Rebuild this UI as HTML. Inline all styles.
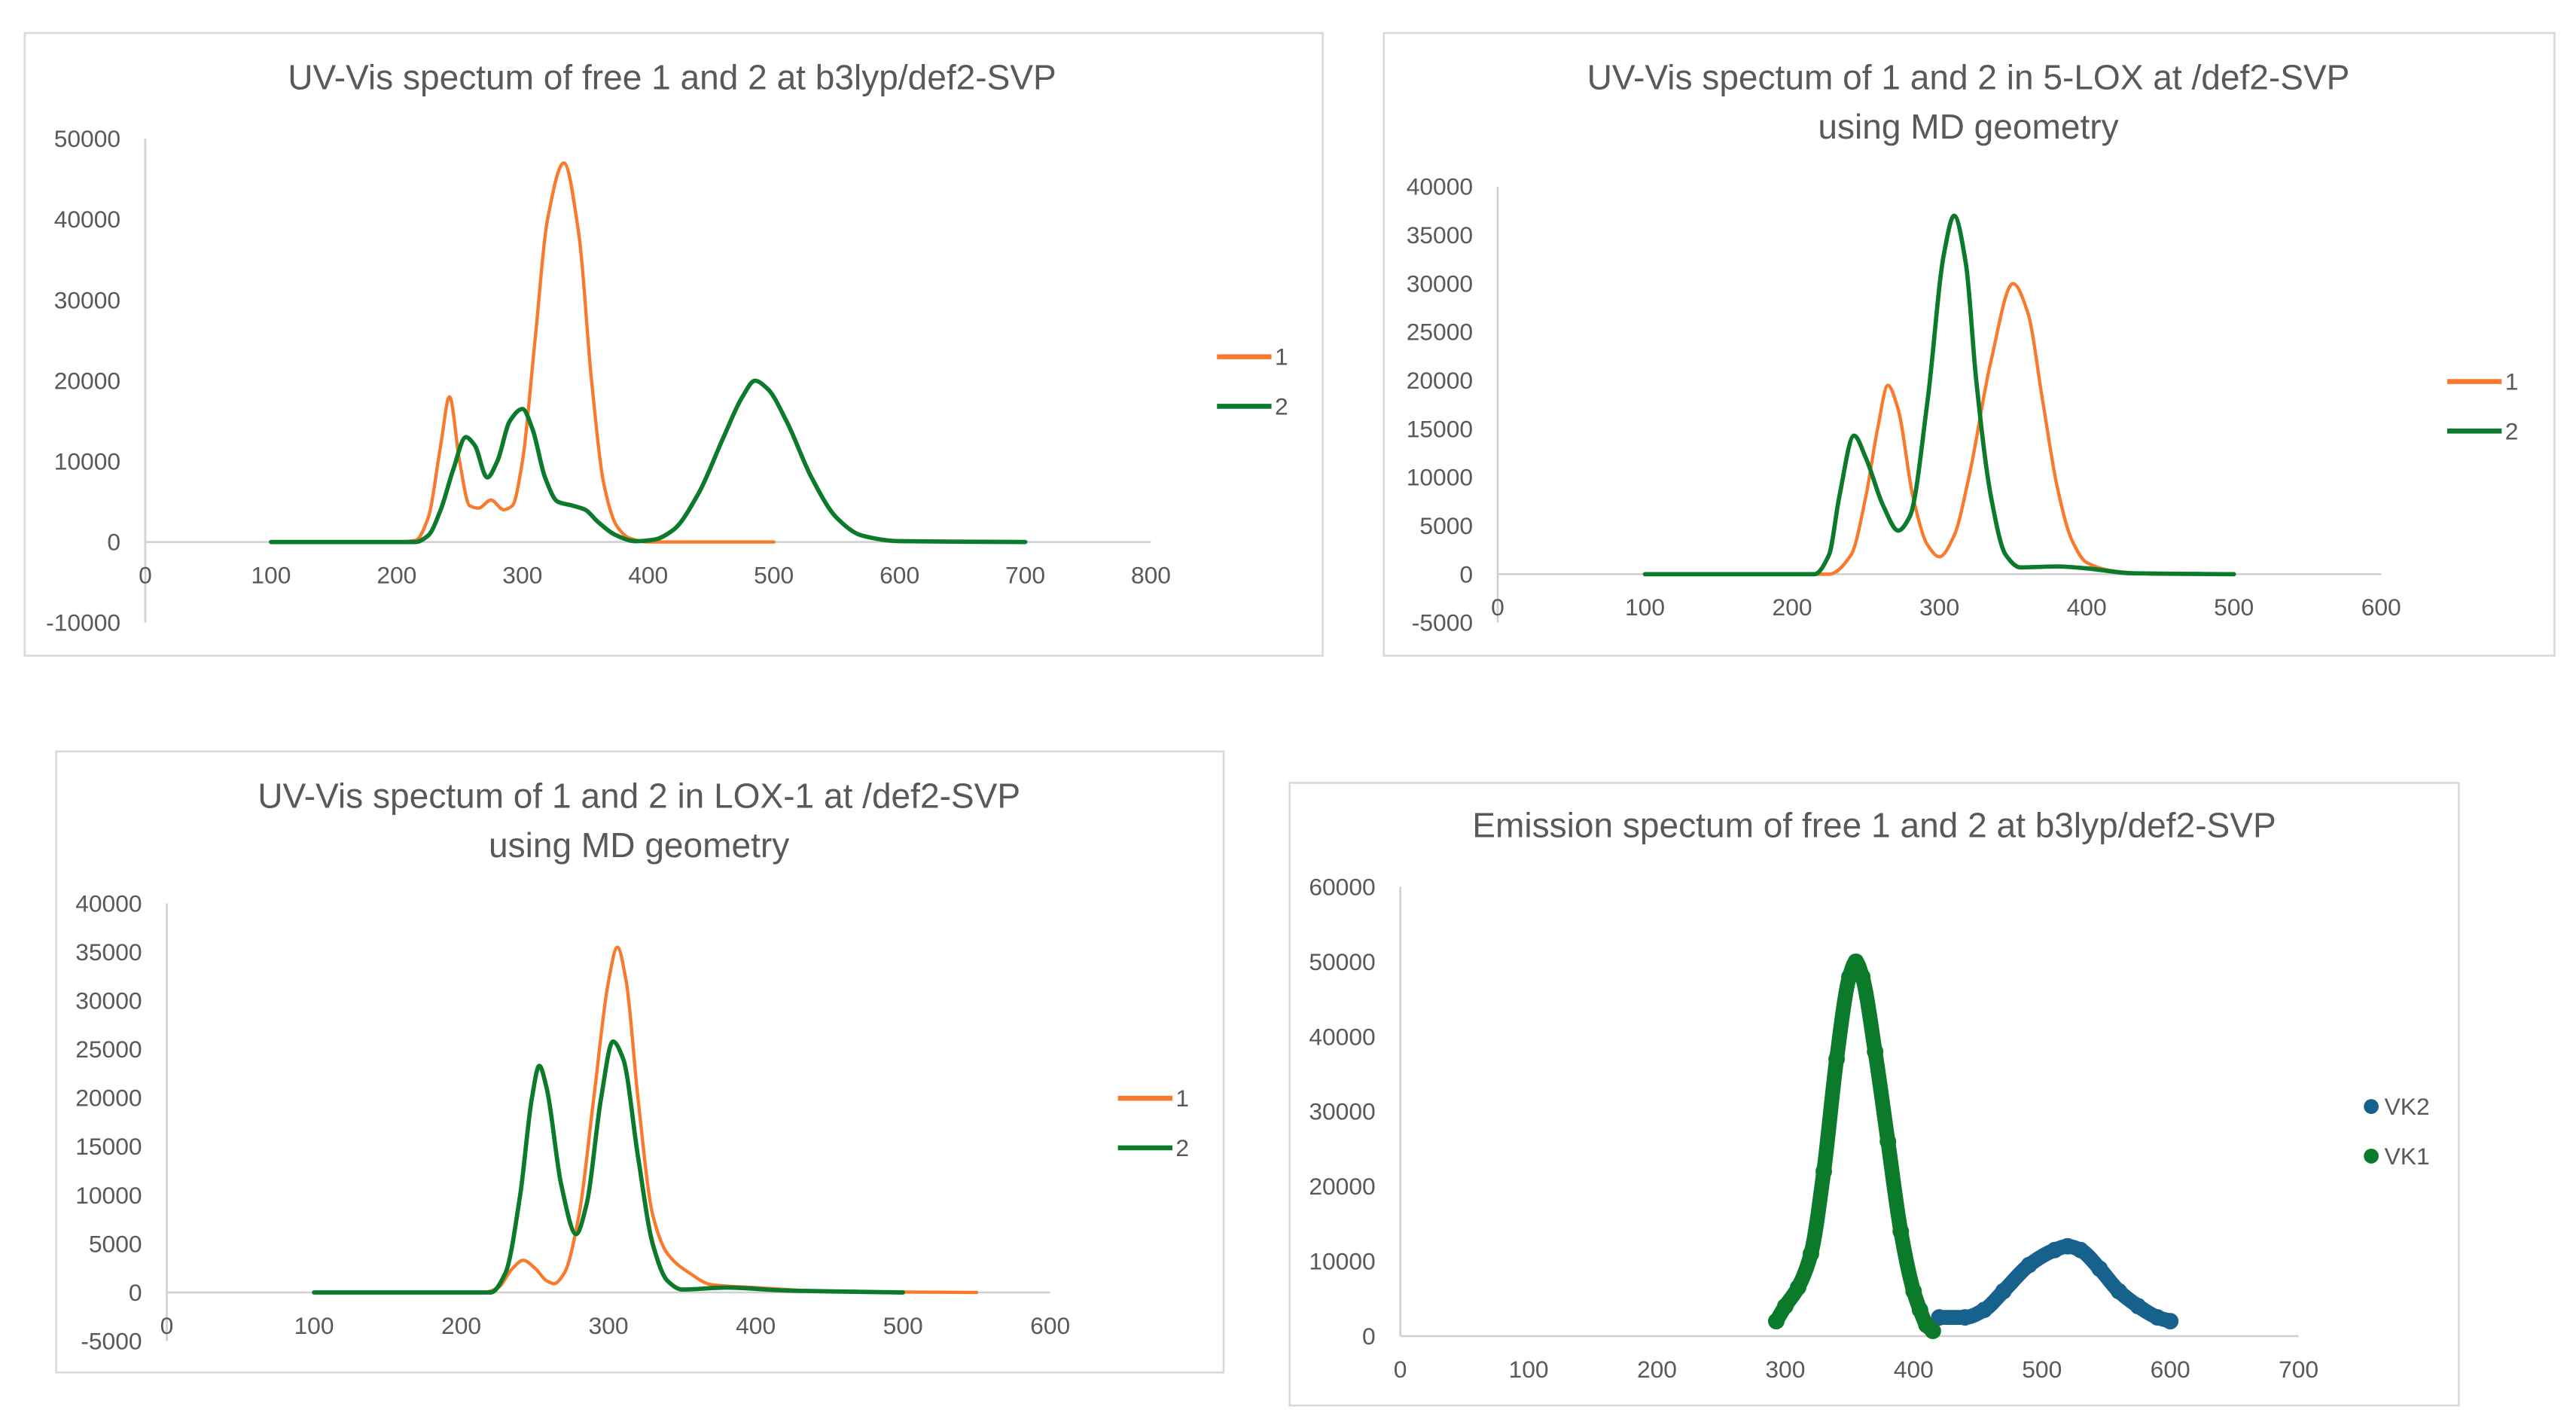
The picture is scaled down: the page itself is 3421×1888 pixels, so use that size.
<!DOCTYPE html>
<html><head><meta charset="utf-8"><style>
html,body{margin:0;padding:0;background:#fff;}
svg{display:block;}
text{font-family:"Liberation Sans Narrow","Liberation Sans",sans-serif;fill:#595959;}
</style></head><body>
<svg id="root" width="3421" height="1888" viewBox="0 0 1560 861" preserveAspectRatio="none" xmlns="http://www.w3.org/2000/svg"></svg>
<script>
// ---- Chart 1 data: free 1 and 2 ----
const c1_s1_x=[100,200,215,225,235,242,250,258,265,275,285,292,300,310,320,333,345,355,365,375,385,400,500];
const c1_s1_y=[0,0,200,3000,12000,18000,10000,4500,4200,5200,4000,4500,10000,25000,40000,47000,38000,20000,7000,2000,500,0,0];
const c1_s2_x=[100,215,225,235,245,255,262,272,280,290,300,308,318,328,340,350,360,375,390,405,420,440,460,475,485,495,510,530,550,570,600,700];
const c1_s2_y=[0,0,800,4000,9000,13000,12000,8000,10000,15000,16500,14000,8000,5000,4500,4000,2500,800,100,300,1500,6000,13000,18000,20000,19000,15000,8000,3000,800,100,0];
const c1_yticks=[-10000,0,10000,20000,30000,40000,50000];
const c1_xticks=[0,100,200,300,400,500,600,700,800];
// ---- Chart 2 data: 5-LOX ----
const c2_s1_x=[100,225,240,250,258,265,272,282,292,300,310,320,335,350,360,370,380,390,400,420,450,500];
const c2_s1_y=[0,0,2000,8000,15000,19500,17000,8000,3000,1800,4000,10000,22000,30000,27000,18000,9000,3500,1200,300,0,0];
const c2_s2_x=[100,215,225,232,242,250,262,272,280,292,303,310,318,325,335,345,355,380,400,430,500];
const c2_s2_y=[0,0,2000,8000,14300,12000,7000,4500,6000,18000,33000,37000,32000,20000,8000,2000,700,800,600,100,0];
const c2_yticks=[-5000,0,5000,10000,15000,20000,25000,30000,35000,40000];
const c2_xticks=[0,100,200,300,400,500,600];
// ---- Chart 3 data: LOX-1 ----
const c3_s1_x=[100,215,225,235,242,250,258,263,270,280,290,300,306,312,320,330,340,355,370,400,450,550];
const c3_s1_y=[0,0,500,2500,3300,2500,1200,900,2000,8000,20000,32000,35500,32000,20000,8000,4000,2000,800,500,100,0];
const c3_s2_x=[100,220,230,240,248,253,258,268,278,285,295,303,310,320,330,340,350,380,420,500];
const c3_s2_y=[0,0,2000,10000,20000,23300,21000,11000,6000,9000,20000,25800,24000,14000,5000,1200,300,500,200,0];
const c3_yticks=c2_yticks;
const c3_xticks=[0,100,200,300,400,500,600];
// ---- Chart 4 data: emission ----
const c4_vk1_x=[293,300,310,320,330,340,350,355,360,370,380,390,400,405,410,415];
const c4_vk1_y=[2000,4000,6500,11000,22000,37000,48000,50000,48000,38000,26000,14000,6000,3500,1500,700];
const c4_vk2_x=[420,440,455,470,490,510,520,530,545,560,575,590,600];
const c4_vk2_y=[2500,2500,3500,6000,9500,11500,12000,11500,9000,6000,4000,2500,2000];
const c4_yticks=[0,10000,20000,30000,40000,50000,60000];
const c4_xticks=[0,100,200,300,400,500,600,700];

const NS="http://www.w3.org/2000/svg";
const root=document.getElementById('root');
function mk(tag,attrs,parent){const e=document.createElementNS(NS,tag);for(const k in attrs)e.setAttribute(k,attrs[k]);(parent||root).appendChild(e);return e;}
// monotone cubic (Fritsch-Carlson) to avoid overshoot
function smooth(pts){
 const n=pts.length,dx=[],m=[],t=[];
 for(let i=0;i<n-1;i++){dx[i]=pts[i+1][0]-pts[i][0];m[i]=(pts[i+1][1]-pts[i][1])/dx[i];}
 t[0]=m[0];t[n-1]=m[n-2];
 for(let i=1;i<n-1;i++){if(m[i-1]*m[i]<=0)t[i]=0;else{const w1=2*dx[i]+dx[i-1],w2=dx[i]+2*dx[i-1];t[i]=(w1+w2)/(w1/m[i-1]+w2/m[i]);}}
 let d="M"+pts[0][0].toFixed(2)+","+pts[0][1].toFixed(2);
 for(let i=0;i<n-1;i++){const h=dx[i]/3;
  d+=" C"+(pts[i][0]+h).toFixed(2)+","+(pts[i][1]+t[i]*h).toFixed(2)+" "+(pts[i+1][0]-h).toFixed(2)+","+(pts[i+1][1]-t[i+1]*h).toFixed(2)+" "+pts[i+1][0].toFixed(2)+","+pts[i+1][1].toFixed(2);}
 return d;}

function chart(cfg){
 const g=mk('g',{});
 
 
 const box=mk('rect',{x:cfg.box[0],y:cfg.box[1],width:cfg.box[2],height:cfg.box[3],fill:'#fff',stroke:'#d9d9d9','stroke-width':1.2},g);
 
 
 cfg.title.forEach((t,i)=>{const te=mk('text',{x:cfg.tx,y:cfg.ty+i*30,'text-anchor':'middle','font-size':21},g);te.textContent=t;
  
  });
 const xs=v=>cfg.ax+(v-cfg.xmin)/(cfg.xmax-cfg.xmin)*(cfg.axEnd-cfg.ax);
 const ys=v=>cfg.y0+(v-cfg.ymin)/(cfg.ymax-cfg.ymin)*(cfg.y1-cfg.y0);
 const ya=mk('line',{x1:cfg.ax,x2:cfg.ax,y1:ys(cfg.ymax),y2:ys(cfg.ymin),stroke:'#d0d0d0','stroke-width':1.2},g);
 
 
 const xa=mk('line',{x1:cfg.ax,x2:cfg.axEnd,y1:ys(0),y2:ys(0),stroke:'#d0d0d0','stroke-width':1.2},g);
 
 
 cfg.yt.forEach(v=>{const t=mk('text',{x:cfg.ax-15,y:ys(v)+5,'text-anchor':'end','font-size':14.5},g);t.textContent=v;
  
  });
 cfg.xt.forEach(v=>{const t=mk('text',{x:xs(v),y:ys(0)+25,'text-anchor':'middle','font-size':14.5},g);t.textContent=v;
  
  });
 cfg.series.forEach((s,i)=>{
  const pts=s.x.map((xv,j)=>[xs(xv),ys(s.y[j])]);
  const p=mk('path',{d:smooth(pts),fill:'none',stroke:s.color,'stroke-width':s.w,'stroke-linecap':'round','stroke-linejoin':'round'},g);
  
  
  if(s.dots){pts.forEach(q=>{const c=mk('circle',{cx:q[0],cy:q[1],r:5,fill:s.color},g);
   
   });}
  const ly=cfg.legY+i*30;
  if(s.dots){const c=mk('circle',{cx:cfg.legX+4,cy:ly,r:4.5,fill:s.color},g);
   
   
   const t=mk('text',{x:cfg.legX+12,y:ly+5,'font-size':14.5},g);t.textContent=s.label;
   
   }
  else{const l=mk('line',{x1:cfg.legX,x2:cfg.legX+33,y1:ly,y2:ly,stroke:s.color,'stroke-width':3},g);
   
   
   const t=mk('text',{x:cfg.legX+35,y:ly+5,'font-size':14.5},g);t.textContent=s.label;
   
   }
 });
}
const OR='#f97a2c',GR='#0b7a2b',BL='#16628c';
chart({name:'chart-free-uvvis',box:[15,20,786,377],title:['UV-Vis spectum of free 1 and 2 at b3lyp/def2-SVP'],tx:407,ty:54,
 ax:88,axEnd:697,xmin:0,xmax:800,y0:377,y1:84,ymin:-10000,ymax:50000,yt:c1_yticks,xt:c1_xticks,legX:737,legY:216,
 series:[{x:c1_s1_x,y:c1_s1_y,color:OR,w:2,label:'1'},{x:c1_s2_x,y:c1_s2_y,color:GR,w:2.6,label:'2'}]});
chart({name:'chart-5lox-uvvis',box:[838,20,709,377],title:['UV-Vis spectum of 1 and 2 in 5-LOX at /def2-SVP','using MD geometry'],tx:1192,ty:54,
 ax:907,axEnd:1442,xmin:0,xmax:600,y0:377,y1:113,ymin:-5000,ymax:40000,yt:c2_yticks,xt:c2_xticks,legX:1482,legY:231,
 series:[{x:c2_s1_x,y:c2_s1_y,color:OR,w:2,label:'1'},{x:c2_s2_x,y:c2_s2_y,color:GR,w:2.6,label:'2'}]});
chart({name:'chart-lox1-uvvis',box:[34,455,707,376],title:['UV-Vis spectum of 1 and 2 in LOX-1 at /def2-SVP','using MD geometry'],tx:387,ty:489,
 ax:101,axEnd:636,xmin:0,xmax:600,y0:812,y1:547,ymin:-5000,ymax:40000,yt:c3_yticks,xt:c3_xticks,legX:677,legY:665,
 series:[{x:c3_s1_x,y:c3_s1_y,color:OR,w:2,label:'1'},{x:c3_s2_x,y:c3_s2_y,color:GR,w:2.6,label:'2'}]});
chart({name:'chart-emission',box:[781,474,708,377],title:['Emission spectum of free 1 and 2 at b3lyp/def2-SVP'],tx:1135,ty:507,
 ax:848,axEnd:1392,xmin:0,xmax:700,y0:809,y1:537,ymin:0,ymax:60000,yt:c4_yticks,xt:c4_xticks,legX:1432,legY:670,
 series:[{x:c4_vk2_x,y:c4_vk2_y,color:BL,w:9,label:'VK2',dots:true},{x:c4_vk1_x,y:c4_vk1_y,color:GR,w:9,label:'VK1',dots:true}]});
</script>
</body></html>
